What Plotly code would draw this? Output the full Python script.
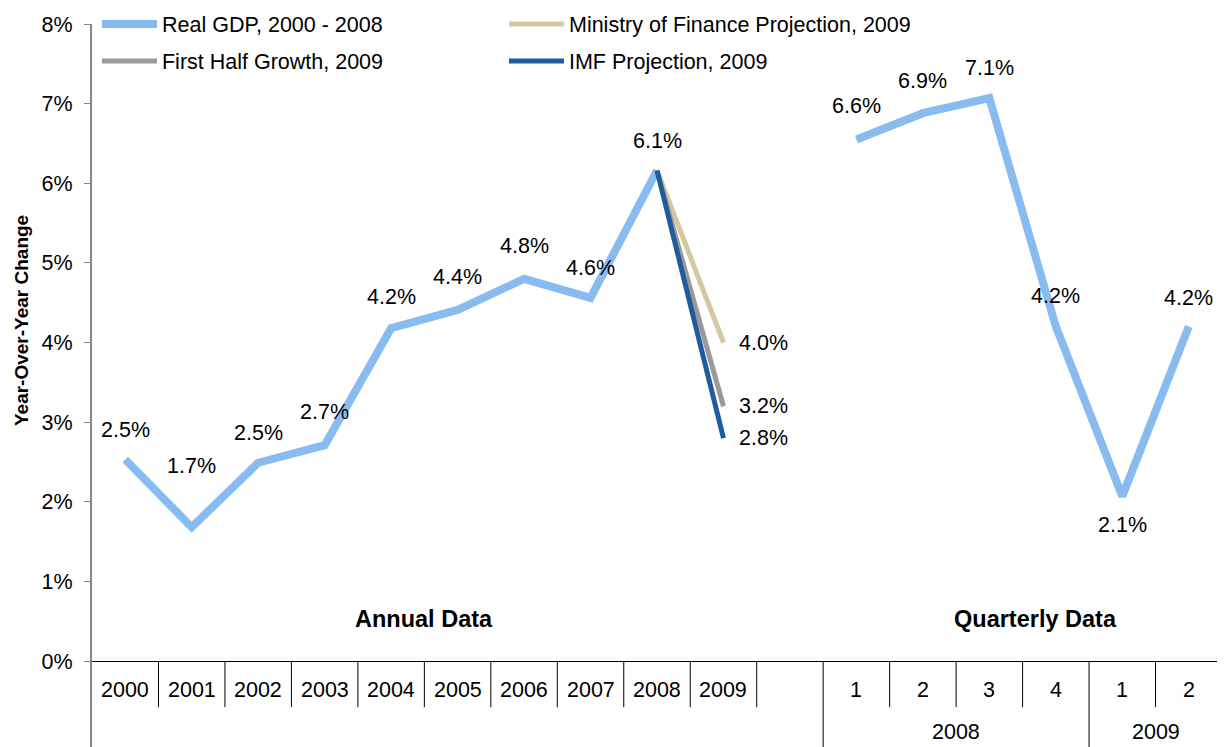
import plotly.graph_objects as go

# ---- data ----
years = ["2000", "2001", "2002", "2003", "2004", "2005", "2006", "2007", "2008", "2009"]
quarters = ["1", "2", "3", "4", "1", "2"]
quarter_years = ["2008", "2009"]
quarter_year_counts = [4, 2]

gdp_annual = [2.53, 1.68, 2.49, 2.71, 4.18, 4.41, 4.80, 4.56, 6.16]
gdp_annual_labels = ["2.5%", "1.7%", "2.5%", "2.7%", "4.2%", "4.4%", "4.8%", "4.6%", "6.1%"]

gdp_quarterly = [6.55, 6.88, 7.07, 4.20, 2.07, 4.20]
gdp_quarterly_labels = ["6.6%", "6.9%", "7.1%", "4.2%", "2.1%", "4.2%"]

mof_2009 = 4.0
first_half_2009 = 3.2
imf_2009 = 2.8
proj_labels = ["4.0%", "3.2%", "2.8%"]

ytick_vals = [0, 1, 2, 3, 4, 5, 6, 7, 8]
ytick_text = ["0%", "1%", "2%", "3%", "4%", "5%", "6%", "7%", "8%"]

# label offsets (pixels, vertical) for data labels
annual_label_shift = [30, 61, 30, 33, 31, 33, 33, 30, 30]
quarterly_label_shift = [33, 32, 30, 31, -29, 29]

# ---- positions on the category axis ----
n_years = len(years)
gap_index = n_years                      # one empty category between the blocks
q_start = gap_index + 1
x_annual = list(range(len(gdp_annual)))
x_quarter = [q_start + i for i in range(len(quarters))]
x_2008 = years.index("2008")
x_2009 = years.index("2009")
n_cat = q_start + len(quarters)

FONT = "Arial, Liberation Sans, sans-serif"
FS = 21.5
C_GDP = "#88BBF0"
C_MOF = "#D5C8A0"
C_FH = "#999999"
C_IMF = "#1F5C9C"

fig = go.Figure()

fig.add_trace(go.Scatter(x=x_annual, y=gdp_annual, mode="lines",
                         line=dict(color=C_GDP, width=8), name="Real GDP, 2000 - 2008",
                         legend="legend", legendgroup="gdp"))
fig.add_trace(go.Scatter(x=x_quarter, y=gdp_quarterly, mode="lines",
                         line=dict(color=C_GDP, width=8), name="Real GDP, 2000 - 2008",
                         showlegend=False, legendgroup="gdp"))
fig.add_trace(go.Scatter(x=[x_2008, x_2009], y=[gdp_annual[x_2008], mof_2009], mode="lines",
                         line=dict(color=C_MOF, width=5), name="Ministry of Finance Projection, 2009",
                         legend="legend"))
fig.add_trace(go.Scatter(x=[x_2008, x_2009], y=[gdp_annual[x_2008], first_half_2009], mode="lines",
                         line=dict(color=C_FH, width=5), name="First Half Growth, 2009",
                         legend="legend2"))
fig.add_trace(go.Scatter(x=[x_2008, x_2009], y=[gdp_annual[x_2008], imf_2009], mode="lines",
                         line=dict(color=C_IMF, width=5), name="IMF Projection, 2009",
                         legend="legend2"))

annotations = []
lab_font = dict(family=FONT, size=FS, color="#000000")
for x, y, t, s in zip(x_annual, gdp_annual, gdp_annual_labels, annual_label_shift):
    annotations.append(dict(x=x, y=y, text=t, showarrow=False, yshift=s, font=lab_font,
                            xanchor="center", yanchor="middle"))
for x, y, t, s in zip(x_quarter, gdp_quarterly, gdp_quarterly_labels, quarterly_label_shift):
    annotations.append(dict(x=x, y=y, text=t, showarrow=False, yshift=s, font=lab_font,
                            xanchor="center", yanchor="middle"))
for y, t in zip([mof_2009, first_half_2009, imf_2009], proj_labels):
    annotations.append(dict(x=x_2009, y=y, text=t, showarrow=False, xshift=14, font=lab_font,
                            xanchor="left", yanchor="middle"))

bold_font = dict(family=FONT, size=23.5, color="#000000")
annotations.append(dict(x=(x_annual[0] + x_2009) / 2, y=0.53, text="<b>Annual Data</b>",
                        showarrow=False, font=bold_font, xanchor="center", yanchor="middle"))
annotations.append(dict(x=13.7, y=0.53, text="<b>Quarterly Data</b>",
                        showarrow=False, font=bold_font, xanchor="center", yanchor="middle"))

# y-axis title
annotations.append(dict(xref="paper", x=-0.0628, y=4.27, text="<b>Year-Over-Year Change</b>",
                        textangle=-90, showarrow=False, borderpad=0,
                        font=dict(family=FONT, size=19, color="#000000"),
                        xanchor="center", yanchor="middle"))

# category table labels
row1_y = -0.36
row2_y = -0.89
for i, t in enumerate(years):
    annotations.append(dict(x=i, y=row1_y, text=t, showarrow=False, font=lab_font,
                            xanchor="center", yanchor="middle"))
for i, t in enumerate(quarters):
    annotations.append(dict(x=q_start + i, y=row1_y, text=t, showarrow=False, font=lab_font,
                            xanchor="center", yanchor="middle"))
start = q_start
for t, c in zip(quarter_years, quarter_year_counts):
    annotations.append(dict(x=start + (c - 1) / 2, y=row2_y, text=t, showarrow=False, font=lab_font,
                            xanchor="center", yanchor="middle"))
    start += c

# table lines
shapes = []
row1_bottom = -0.58
axis_bottom = -1.08
long_bounds = [q_start - 0.5]
acc = q_start
for c in quarter_year_counts:
    acc += c
    long_bounds.append(acc - 0.5)
for k in range(n_cat - 1):
    b = k + 0.5
    if b in long_bounds:
        continue
    shapes.append(dict(type="line", x0=b, x1=b, y0=0, y1=row1_bottom,
                       line=dict(color="#000000", width=1)))
for b in long_bounds:
    shapes.append(dict(type="line", x0=b, x1=b, y0=0, y1=axis_bottom,
                       line=dict(color="#000000", width=1)))

leg_common = dict(orientation="h", xanchor="left", yanchor="middle",
                  itemwidth=55, entrywidth=337, entrywidthmode="pixels",
                  bgcolor="rgba(0,0,0,0)",
                  font=dict(family=FONT, size=FS, color="#000000"))

# the page body adds an 8px offset; margins compensate so the plot sits where the reference has it
fig.update_layout(
    width=1225, height=747,
    margin=dict(l=84, r=11, t=16, b=8, autoexpand=False),
    paper_bgcolor="white", plot_bgcolor="white",
    font=dict(family=FONT, size=FS, color="#000000"),
    xaxis=dict(range=[-0.5, n_cat - 0.5], showticklabels=False, showgrid=False,
               zeroline=False, showline=False, ticks=""),
    yaxis=dict(range=[axis_bottom, 8], tickvals=ytick_vals, ticktext=ytick_text,
               showgrid=False, zeroline=True, zerolinecolor="#000000", zerolinewidth=1,
               showline=True, linecolor="#868686", linewidth=2,
               ticks="outside", ticklen=6, tickcolor="#868686", tickwidth=1,
               ticklabelstandoff=7,
               tickfont=dict(family=FONT, size=FS, color="#000000")),
    legend=dict(x=0.0044, y=1.0, **leg_common),
    legend2=dict(x=0.0044, y=1 - 37 / 723, **leg_common),
    annotations=annotations,
    shapes=shapes,
)

fig.write_html("out.html")
